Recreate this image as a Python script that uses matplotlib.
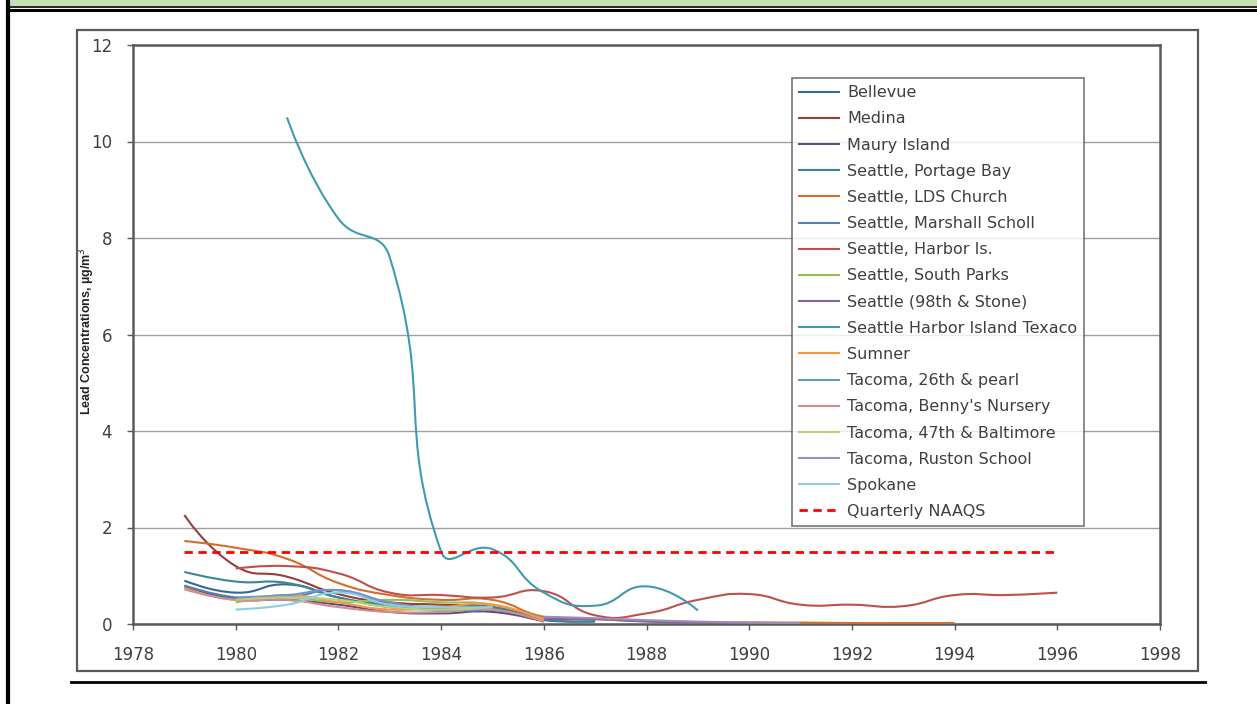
import numpy as np
import matplotlib
matplotlib.use("Agg")
import matplotlib.pyplot as plt
from matplotlib.path import Path
from matplotlib.patches import PathPatch, Rectangle
from matplotlib.lines import Line2D

plt.rcParams['font.family'] = ['DejaVu Sans']

# annual lead concentrations (ug/m3), one value per year 1979-1996, None = no data
years = list(range(1979, 1997))
N = None

bellevue = [0.90, 0.65, 0.82, 0.55, 0.35, 0.30, 0.30, 0.08, 0.06]
medina = [2.26, 1.20, 0.98, 0.62, 0.45, 0.40, 0.35, 0.10]
maury_island = [0.78, 0.52, 0.50, 0.40, 0.25, 0.22, 0.25, 0.05]
portage_bay = [1.08, 0.88, 0.85, 0.55, 0.40, 0.35, 0.35, 0.10, 0.05]
lds_church = [1.72, 1.58, 1.35, 0.85, 0.60, 0.50, 0.50, 0.15, 0.10, 0.06,
              0.04, 0.03, 0.03, 0.02, 0.02, 0.02]
marshall = [0.80, 0.55, 0.55, 0.70, 0.40, 0.30, 0.30, 0.10]
harbor_is = [N, 1.15, 1.20, 1.05, 0.65, 0.60, 0.55, 0.68, 0.18, 0.22, 0.50,
             0.62, 0.40, 0.40, 0.37, 0.60, 0.60, 0.65]
south_parks = [N, 0.45, 0.55, 0.45, 0.50, 0.45, 0.40, 0.10]
stone_98th = [N, N, N, N, N, N, N, 0.10, 0.10, 0.05, 0.03, 0.02]
texaco = [N, N, 10.5, 8.4, 7.6, 1.50, 1.55, 0.65, 0.38, 0.78, 0.28]
sumner = [0.75, 0.50, 0.60, 0.45, 0.30, 0.35, 0.40, 0.08]
pearl_26th = [N, 0.55, 0.60, 0.70, 0.45, 0.30, 0.30]
bennys = [0.72, 0.50, 0.50, 0.35, 0.25, 0.25, 0.30, 0.05]
baltimore_47th = [N, 0.50, 0.55, 0.50, 0.35, 0.30, 0.35]
ruston = [N, N, N, N, N, N, N, 0.15, 0.12, 0.08, 0.05, 0.03, 0.02]
spokane = [N, 0.30, 0.40, 0.65, 0.40, 0.35, 0.35]

naaqs = 1.5
naaqs_years = [1979, 1996]

sites = ["Bellevue", "Medina", "Maury Island", "Seattle, Portage Bay",
         "Seattle, LDS Church", "Seattle, Marshall Scholl", "Seattle, Harbor Is.",
         "Seattle, South Parks", "Seattle (98th & Stone)",
         "Seattle Harbor Island Texaco", "Sumner", "Tacoma, 26th & pearl",
         "Tacoma, Benny's Nursery", "Tacoma, 47th & Baltimore",
         "Tacoma, Ruston School", "Spokane"]
series = [bellevue, medina, maury_island, portage_bay, lds_church, marshall,
          harbor_is, south_parks, stone_98th, texaco, sumner, pearl_26th,
          bennys, baltimore_47th, ruston, spokane]
colors = ['#3B6696', '#9A3E3B', '#5E4E80', '#3A8597', '#D46E2A', '#4F81BD',
          '#C0504D', '#9BBB59', '#8064A2', '#3F9BB3', '#F79646', '#6F95D0',
          '#D28E8C', '#B9CF7E', '#9C8DB5', '#8CCFE0']


def smooth_path(ax, xs, ys, t=0.5):
    # smoothed line like a spreadsheet chart: Bezier segments whose
    # control points are scaled by the neighbouring segment lengths on screen
    pts = ax.transData.transform(np.column_stack([xs, ys]))
    n = len(pts)
    c_in = pts.copy()
    c_out = pts.copy()
    for i in range(1, n - 1):
        d01 = np.hypot(*(pts[i] - pts[i - 1]))
        d12 = np.hypot(*(pts[i + 1] - pts[i]))
        span = pts[i + 1] - pts[i - 1]
        c_in[i] = pts[i] - t * d01 / (d01 + d12) * span
        c_out[i] = pts[i] + t * d12 / (d01 + d12) * span
    verts = [pts[0]]
    codes = [Path.MOVETO]
    for i in range(n - 1):
        verts += [c_out[i], c_in[i + 1], pts[i + 1]]
        codes += [Path.CURVE4] * 3
    inv = ax.transData.inverted()
    return Path(inv.transform(np.array(verts)), codes)


fig = plt.figure(figsize=(12.57, 7.04), dpi=100)
W, H = 1257, 704

# page decoration: green header band, rules and left border
fig.patches.append(Rectangle((10 / W, 1 - 6 / H), 1, 6 / H, transform=fig.transFigure,
                             facecolor='#C5E0B3', edgecolor='none', zorder=0))
fig.lines.append(Line2D([10 / W, 1], [1 - 6.5 / H, 1 - 6.5 / H], transform=fig.transFigure,
                        color='black', lw=1.2))
fig.lines.append(Line2D([10 / W, 1], [1 - 10 / H, 1 - 10 / H], transform=fig.transFigure,
                        color='black', lw=2.2))
fig.lines.append(Line2D([7.5 / W, 7.5 / W], [0, 1], transform=fig.transFigure,
                        color='black', lw=3))
fig.lines.append(Line2D([71 / W, 1205 / W], [1 - 682 / H, 1 - 682 / H],
                        transform=fig.transFigure, color='black', lw=2))
# chart area border
fig.patches.append(Rectangle((77 / W, 1 - 671 / H), (1198 - 77) / W, (671 - 30) / H,
                             transform=fig.transFigure, facecolor='none',
                             edgecolor='#5A5A5A', lw=1.6))

ax = fig.add_axes([133 / W, 1 - 624 / H, (1160 - 133) / W, (624 - 45) / H])
ax.set_xlim(1978, 1998)
ax.set_ylim(0, 12)

handles = []
for name, vals, col in zip(sites, series, colors):
    ys = np.array([np.nan if v is None else v for v in vals], dtype=float)
    xs = np.array(years[:len(ys)], dtype=float)
    ok = ~np.isnan(ys)
    ax.add_patch(PathPatch(smooth_path(ax, xs[ok], ys[ok]), facecolor='none',
                           edgecolor=col, lw=1.5, zorder=3))
    handles.append(Line2D([], [], color=col, lw=1.5, label=name))

line_naaqs, = ax.plot(naaqs_years, [naaqs, naaqs], color='#FF0000', lw=2,
                      ls=(0, (3, 2)), label='Quarterly NAAQS', zorder=4)
handles.append(line_naaqs)

ax.set_xticks(range(1978, 1999, 2))
ax.set_yticks(range(0, 13, 2))
ax.yaxis.grid(True, color='#A0A0A0', lw=1)
ax.set_axisbelow(True)
for s in ax.spines.values():
    s.set_color('#5A5A5A')
    s.set_linewidth(1.8)
ax.tick_params(axis='both', colors='#5A5A5A', length=4, width=1, labelsize=12,
               labelcolor='#404040')
ax.tick_params(axis='x', pad=12)
ax.tick_params(axis='y', pad=11)
ax.set_ylabel('Lead Concentrations, µg/m$^3$', fontsize=9, fontweight='bold',
              color='#222222', family=['Liberation Sans', 'DejaVu Sans'])
ax.yaxis.set_label_coords((97 - 133) / (1160 - 133), 0.505)

leg = fig.legend(handles=handles, loc='upper left',
                 bbox_to_anchor=(792 / W, 1 - 78 / H), bbox_transform=fig.transFigure,
                 fontsize=11.5, frameon=True, fancybox=False, borderaxespad=0,
                 handlelength=2.5, handletextpad=0.5, labelspacing=0.7,
                 borderpad=0.45)
leg.get_frame().set_edgecolor('#555555')
leg.get_frame().set_linewidth(1.2)
for t in leg.get_texts():
    t.set_color('#404040')

fig.savefig('out.png', dpi=100)
